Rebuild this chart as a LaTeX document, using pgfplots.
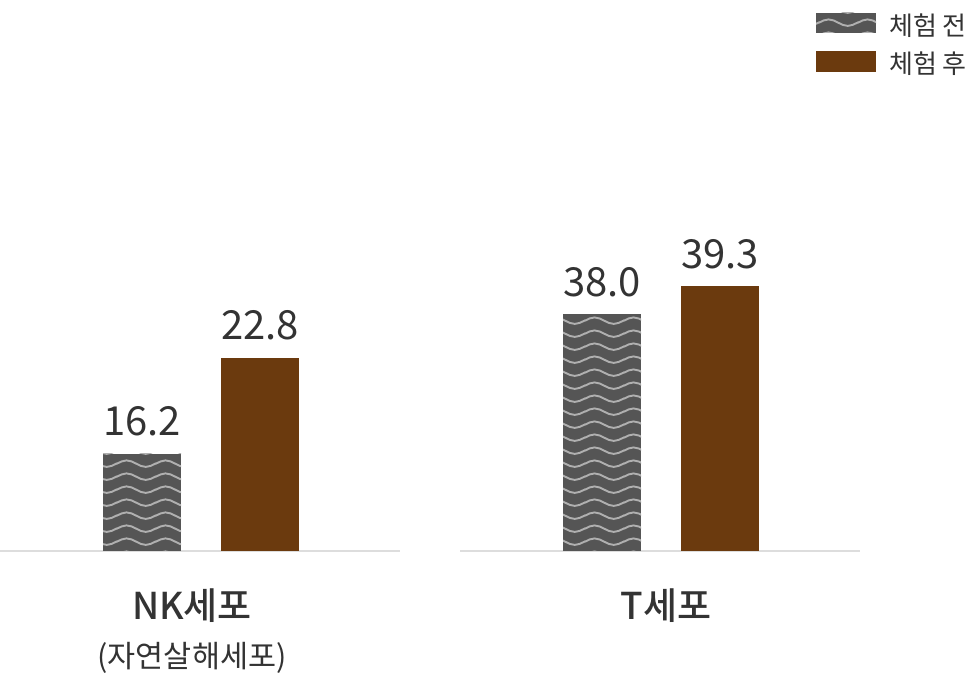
\documentclass[border=0pt]{standalone}
\usepackage{fontspec}
\setmainfont{Noto Sans CJK KR}
\newfontfamily\medfont{Noto Sans CJK KR Medium}
\usepackage{pgfplots}
\pgfplotsset{compat=1.18}
\usetikzlibrary{patterns}

\definecolor{txt}{HTML}{333333}
\definecolor{barGray}{HTML}{555555}
\definecolor{waveGray}{HTML}{B0B0B0}
\definecolor{barBrown}{HTML}{6B3A0E}
\definecolor{lineGray}{HTML}{DDDDDD}

% wavy lines on the "before" bars (one period wide, ends run past the tile)
\pgfdeclarepatternformonly{waves}{\pgfpoint{0pt}{0pt}}{\pgfpoint{39pt}{13.3pt}}{\pgfpoint{39pt}{13.3pt}}{%
  \pgfsetlinewidth{2pt}%
  \pgfpathmoveto{\pgfpoint{-9.75pt}{3.25pt}}%
  \pgfpathcosine{\pgfpoint{9.75pt}{3.4pt}}%
  \pgfpathsine{\pgfpoint{9.75pt}{3.4pt}}%
  \pgfpathcosine{\pgfpoint{9.75pt}{-3.4pt}}%
  \pgfpathsine{\pgfpoint{9.75pt}{-3.4pt}}%
  \pgfpathcosine{\pgfpoint{9.75pt}{3.4pt}}%
  \pgfpathsine{\pgfpoint{9.75pt}{3.4pt}}%
  \pgfusepath{stroke}%
}

\pgfplotsset{
  grp/.style={
    anchor=south west, scale only axis,
    width=400pt, height=551pt,
    xmin=-1, xmax=1,
    axis lines=none,
    ybar=40pt, bar width=78pt,
    nodes near coords,
    point meta=explicit symbolic,
    every node near coord/.append style={
      font=\fontsize{40}{48}\selectfont, text=txt,
      anchor=base, inner sep=0pt, yshift=18pt},
  },
  before/.style={fill=barGray, draw=none,
    postaction={pattern=waves, pattern color=waveGray}},
  after/.style={fill=barBrown, draw=none},
}

\begin{document}
\begin{tikzpicture}
  \useasboundingbox (0,0) rectangle (970pt,680pt);

  % baselines
  \draw[lineGray, line width=2pt] (0pt,129pt) -- (400pt,129pt);
  \draw[lineGray, line width=2pt] (460pt,129pt) -- (860pt,129pt);

  % NK cells
  \begin{axis}[grp, at={(1pt,129pt)}, ymin=9.531, ymax=47.41]
    \addplot[before] coordinates {(0,16.2) [16.2]};
    \addplot[after] coordinates {(0,22.8) [22.8]};
  \end{axis}

  % T cells
  \begin{axis}[grp, at={(461pt,129pt)}, ymin=26.996, ymax=52.58]
    \addplot[before] coordinates {(0,38.0) [38.0]};
    \addplot[after] coordinates {(0,39.3) [39.3]};
  \end{axis}

  % category labels
  \node[anchor=base, text=txt, font=\medfont\fontsize{37}{37}\selectfont] at (192pt,60pt) {NK세포};
  \node[anchor=base, text=txt, font=\fontsize{30.5}{30.5}\selectfont] at (192pt,12pt) {(자연살해세포)};
  \node[anchor=base, text=txt, font=\medfont\fontsize{37}{37}\selectfont] at (666pt,60pt) {T세포};

  % legend
  \fill[barGray, postaction={pattern=waves, pattern color=waveGray}] (816pt,647pt) rectangle (876pt,667pt);
  \fill[barBrown] (816pt,608pt) rectangle (876pt,629pt);
  \node[anchor=base west, inner sep=0pt, text=txt, font=\fontsize{26}{26}\selectfont] at (889pt,644pt) {체험 전};
  \node[anchor=base west, inner sep=0pt, text=txt, font=\fontsize{26}{26}\selectfont] at (889pt,606pt) {체험 후};
\end{tikzpicture}
\end{document}
